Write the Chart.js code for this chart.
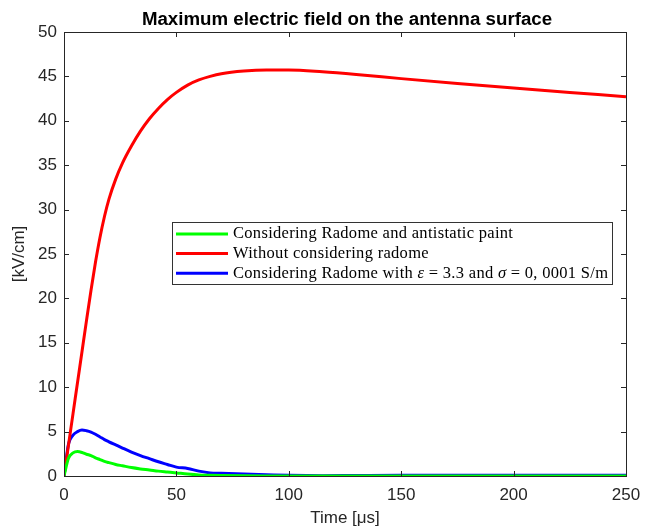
<!DOCTYPE html>
<html>
<head>
<meta charset="utf-8">
<script src="https://cdn.jsdelivr.net/npm/chart.js@4.4.1/dist/chart.umd.min.js"></script>
<style>
  html, body { margin: 0; padding: 0; background: #fff; }
  #wrap { width: 653px; height: 531px; }
</style>
</head>
<body>
<div id="wrap"><canvas id="chart"></canvas></div>
<script>
// time axis in microseconds
const time = [0, 2, 4, 6, 8, 10, 12, 14, 16, 18, 20, 23, 26, 30, 34, 38, 42, 46, 50, 55, 60, 65, 70, 80, 90, 100, 115, 130, 150, 175, 200, 225, 250];
const withoutRadome = [0, 3.5, 7.0, 10.5, 14.0, 17.5, 20.9, 24.06, 26.86, 29.22, 31.18, 33.43, 35.23, 37.15, 38.83, 40.23, 41.39, 42.39, 43.2, 44.02, 44.6, 45.0, 45.3, 45.6, 45.72, 45.72, 45.52, 45.22, 44.75, 44.2, 43.7, 43.2, 42.7];
const radomePaint = [0, 2.0, 2.6, 2.75, 2.65, 2.45, 2.3, 2.05, 1.85, 1.65, 1.5, 1.3, 1.15, 0.95, 0.8, 0.68, 0.55, 0.45, 0.35, 0.22, 0.12, 0.08, 0.05, 0.02, 0.01, 0.01, 0.01, 0.01, 0.01, 0.01, 0.01, 0.01, 0.01];
const radomeEps = [0, 3.6, 4.6, 5.0, 5.18, 5.1, 4.95, 4.7, 4.4, 4.1, 3.85, 3.5, 3.15, 2.7, 2.3, 1.95, 1.6, 1.3, 1.0, 0.85, 0.55, 0.35, 0.3, 0.22, 0.15, 0.08, 0.04, 0.06, 0.08, 0.08, 0.08, 0.08, 0.08];
const xTicks = [0, 50, 100, 150, 200, 250];
const yTicks = [0, 5, 10, 15, 20, 25, 30, 35, 40, 45, 50];

const axisColor = "#262626";
const sans = "Arial, 'Liberation Sans', sans-serif";
const toPoints = (ys) => time.map((t, i) => ({ x: t, y: ys[i] }));

// legend entries, drawn by hand inside the axes
const legendItems = [
  { color: "#00ff00", parts: [["Considering Radome and antistatic paint", false]] },
  { color: "#ff0000", parts: [["Without considering radome", false]] },
  { color: "#0000ff", parts: [["Considering Radome with ", false], ["\u03b5", true], [" = 3.3 and ", false], ["\u03c3", true], [" = 0, 0001 S/m", false]] },
];

const matlabBox = {
  id: "matlabBox",
  afterDraw(chart) {
    const { ctx, chartArea: a, scales } = chart;
    ctx.save();
    ctx.strokeStyle = axisColor;
    ctx.lineWidth = 1;
    // inward ticks on all four sides
    ctx.beginPath();
    xTicks.forEach((v) => {
      const px = Math.round(scales.x.getPixelForValue(v)) + 0.5;
      ctx.moveTo(px, a.bottom); ctx.lineTo(px, a.bottom - 5);
      ctx.moveTo(px, a.top); ctx.lineTo(px, a.top + 5);
    });
    yTicks.forEach((v) => {
      const py = Math.round(scales.y.getPixelForValue(v)) + 0.5;
      ctx.moveTo(a.left, py); ctx.lineTo(a.left + 5, py);
      ctx.moveTo(a.right, py); ctx.lineTo(a.right - 5, py);
    });
    ctx.stroke();
    ctx.strokeRect(Math.round(a.left) + 0.5, Math.round(a.top) + 0.5, Math.round(a.width), Math.round(a.height));

    // title
    ctx.fillStyle = "#000";
    ctx.font = "bold 18.7px " + sans;
    ctx.textAlign = "center";
    ctx.textBaseline = "middle";
    ctx.fillText("Maximum electric field on the antenna surface", (a.left + a.right) / 2 + 2, 20);

    // legend
    const bx = 172, by = 222, bw = 440, bh = 62;
    ctx.fillStyle = "#fff";
    ctx.fillRect(bx, by, bw, bh);
    ctx.strokeStyle = "#333";
    ctx.strokeRect(bx + 0.5, by + 0.5, bw, bh);
    ctx.textAlign = "left";
    ctx.textBaseline = "middle";
    ctx.letterSpacing = "0.3px";
    legendItems.forEach((item, i) => {
      const y = by + 12 + i * 19.6;
      ctx.strokeStyle = item.color;
      ctx.lineWidth = 3;
      ctx.beginPath();
      ctx.moveTo(bx + 4, y); ctx.lineTo(bx + 56, y);
      ctx.stroke();
      let x = bx + 61;
      ctx.fillStyle = "#000";
      item.parts.forEach(([txt, it]) => {
        ctx.font = (it ? "italic " : "") + "16.5px 'Liberation Serif', 'DejaVu Serif', serif";
        ctx.fillText(txt, x, y);
        x += ctx.measureText(txt).width;
      });
    });
    ctx.restore();
  },
};

const lineDs = (label, ys, color) => ({
  label,
  data: toPoints(ys),
  borderColor: color,
  backgroundColor: color,
  borderWidth: 3,
  pointRadius: 0,
  cubicInterpolationMode: "monotone",
  fill: false,
});

new Chart(document.getElementById("chart"), {
  type: "line",
  data: {
    datasets: [
      lineDs("Considering Radome and antistatic paint", radomePaint, "#00ff00"),
      lineDs("Without considering radome", withoutRadome, "#ff0000"),
      lineDs("Considering Radome with \u03b5 = 3.3 and \u03c3 = 0, 0001 S/m", radomeEps, "#0000ff"),
    ],
  },
  options: {
    responsive: true,
    maintainAspectRatio: false,
    animation: false,
    events: [],
    layout: { padding: { top: 32, right: 27, left: 0, bottom: 0 } },
    plugins: { legend: { display: false }, tooltip: { enabled: false } },
    scales: {
      x: {
        type: "linear",
        min: 0,
        max: 250,
        afterBuildTicks: (s) => { s.ticks = xTicks.map((v) => ({ value: v })); },
        afterFit: (s) => { s.height = 55; },
        grid: { display: false, drawTicks: false },
        border: { display: false },
        ticks: { color: axisColor, padding: 9, font: { family: sans, size: 17 } },
        title: {
          display: true,
          text: "Time [\u03bcs]",
          color: axisColor,
          padding: { top: 0, bottom: 2 },
          font: { family: sans, size: 17 },
        },
      },
      y: {
        min: 0,
        max: 50,
        afterBuildTicks: (s) => { s.ticks = yTicks.map((v) => ({ value: v })); },
        afterFit: (s) => { s.width = 64; },
        grid: { display: false, drawTicks: false },
        border: { display: false },
        ticks: { color: axisColor, padding: 7, font: { family: sans, size: 17 } },
        title: {
          display: true,
          text: "[kV/cm]",
          color: axisColor,
          padding: { top: 9, bottom: 0 },
          font: { family: sans, size: 17 },
        },
      },
    },
  },
  plugins: [matlabBox],
});
</script>
</body>
</html>
